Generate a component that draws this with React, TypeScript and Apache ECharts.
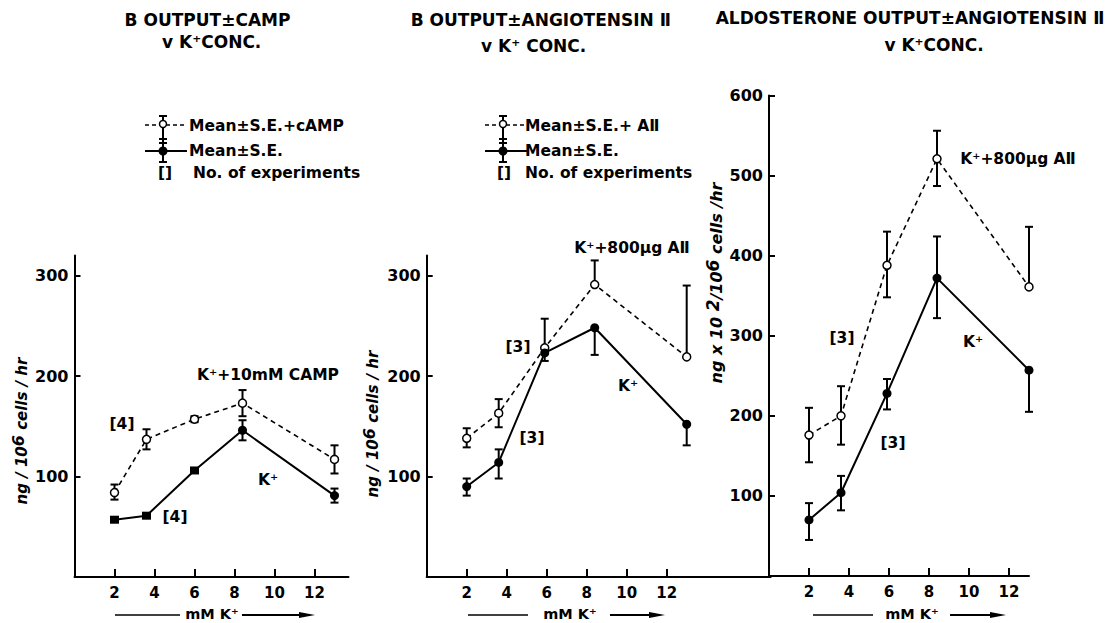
import React, { useEffect, useRef } from 'react';
import * as echarts from 'echarts';

const FONT = '"DejaVu Sans", "Liberation Sans", sans-serif';

// ---- tick labels ----
const xTickValues = [2, 4, 6, 8, 10, 12];
const yTicksB = [100, 200, 300];
const yTicksAldo = [100, 200, 300, 400, 500, 600];

// ---- Panel 1: B output ± cAMP ----
const kConcCamp = [2, 3.6, 6, 8.4, 13];
const campMean = [84, 137, 157, 173, 117];
const campUp = [8, 10, 3, 13, 14];
const campDown = [7, 10, 3, 13, 14];
const kOnlyMean1 = [57, 61, 106, 146, 81];
const kOnlyUp1 = [2, 2, 2, 10, 7];
const kOnlyDown1 = [2, 2, 2, 10, 7];

// ---- Panel 2: B output ± angiotensin II ----
const kConcAii = [2, 3.6, 5.9, 8.4, 13];
const aiiBMean = [138, 163, 228, 291, 219];
const aiiBUp = [10, 14, 29, 24, 71];
const aiiBDown = [9, 14, 0, 0, 0];
const kOnlyMean2 = [90, 114, 223, 248, 152];
const kOnlyUp2 = [8, 13, 4, 0, 0];
const kOnlyDown2 = [9, 16, 8, 27, 21];

// ---- Panel 3: aldosterone output ± angiotensin II ----
const kConcAldo = [2, 3.6, 5.9, 8.4, 13];
const aiiAldoMean = [176, 200, 388, 521, 361];
const aiiAldoUp = [34, 37, 42, 35, 75];
const aiiAldoDown = [34, 36, 40, 34, 0];
const kOnlyMean3 = [70, 104, 228, 372, 257];
const kOnlyUp3 = [21, 21, 18, 52, 0];
const kOnlyDown3 = [25, 22, 20, 50, 52];

const BOLD = { fontFamily: FONT, fontWeight: 'bold' as const, color: '#000' };

function lineSeries(idx: number, xs: number[], ys: number[], dashed: boolean, squareCount = 0) {
  return {
    type: 'line',
    xAxisIndex: idx,
    yAxisIndex: idx,
    data: xs.map((x, i) =>
      i < squareCount ? { value: [x, ys[i]], symbol: 'rect', symbolSize: [9, 8] } : { value: [x, ys[i]] }
    ),
    symbol: 'circle',
    symbolSize: dashed ? 8 : 9,
    lineStyle: { color: '#000', width: dashed ? 1.6 : 2, type: dashed ? [5, 4] : 'solid' },
    itemStyle: dashed
      ? { color: '#fff', borderColor: '#000', borderWidth: 1.5 }
      : { color: '#000', borderWidth: 0 },
    emphasis: { disabled: true },
    silent: true,
    z: 3,
  };
}

function errSeries(idx: number, xs: number[], ys: number[], up: number[], down: number[]) {
  return {
    type: 'custom',
    xAxisIndex: idx,
    yAxisIndex: idx,
    data: xs.map((x, i) => [x, ys[i] - down[i], ys[i] + up[i], ys[i]]),
    encode: { x: 0, y: [1, 2] },
    silent: true,
    z: 2,
    renderItem: (_params: any, api: any) => {
      const x = api.value(0);
      const lo = api.value(1);
      const hi = api.value(2);
      const m = api.value(3);
      const a = api.coord([x, lo]);
      const b = api.coord([x, hi]);
      const st = { stroke: '#000', lineWidth: 2 };
      const children: any[] = [
        { type: 'line', shape: { x1: a[0], y1: a[1], x2: b[0], y2: b[1] }, style: st },
      ];
      if (lo < m)
        children.push({ type: 'line', shape: { x1: a[0] - 4, y1: a[1], x2: a[0] + 4, y2: a[1] }, style: st });
      if (hi > m)
        children.push({ type: 'line', shape: { x1: b[0] - 4, y1: b[1], x2: b[0] + 4, y2: b[1] }, style: st });
      return { type: 'group', children };
    },
  };
}

function xAxis(idx: number, max: number) {
  return {
    type: 'value',
    gridIndex: idx,
    min: 0,
    max,
    axisLine: { onZero: false, lineStyle: { color: '#000', width: 2 } },
    axisTick: { inside: true, length: 8, customValues: xTickValues, lineStyle: { color: '#000', width: 2 } },
    axisLabel: { customValues: xTickValues, fontSize: 15, margin: 8, ...BOLD },
    splitLine: { show: false },
  };
}

function yAxis(idx: number, max: number, ticks: number[]) {
  return {
    type: 'value',
    gridIndex: idx,
    min: 0,
    max,
    axisLine: { show: true, onZero: false, lineStyle: { color: '#000', width: 2 } },
    axisTick: { inside: true, length: 6, customValues: ticks, lineStyle: { color: '#000', width: 2 } },
    axisLabel: { customValues: ticks, fontSize: 16, margin: 6, ...BOLD },
    splitLine: { show: false },
  };
}

function txt(x: number, y: number, text: string, size = 15.5, align = 'center') {
  return {
    type: 'text',
    x,
    y,
    silent: true,
    style: {
      text,
      fill: '#000',
      fontFamily: FONT,
      fontWeight: 'bold',
      fontSize: size,
      align,
      verticalAlign: 'middle',
    },
  };
}

function seg(x1: number, y1: number, x2: number, y2: number, w = 2, dash?: number[]) {
  return {
    type: 'line',
    silent: true,
    shape: { x1, y1, x2, y2 },
    style: { stroke: '#000', lineWidth: w, lineDash: dash },
  };
}

function legend(cx: number, textX: number, bracketX: number, expX: number, top: string) {
  const L = cx - 18;
  const R = cx + 24;
  return [
    seg(cx, 116, cx, 162),
    seg(cx - 4, 116, cx + 4, 116),
    seg(cx - 4, 139, cx + 4, 139),
    seg(cx - 4, 143, cx + 4, 143),
    seg(cx - 4, 162, cx + 4, 162),
    seg(L, 125, R, 125, 1.6, [4, 3]),
    seg(L, 151, R, 151, 2.2),
    {
      type: 'circle',
      silent: true,
      shape: { cx, cy: 124, r: 3.5 },
      style: { fill: '#fff', stroke: '#000', lineWidth: 1.5 },
    },
    { type: 'circle', silent: true, shape: { cx, cy: 151, r: 4.5 }, style: { fill: '#000' } },
    txt(textX, 126, top, 15.5, 'left'),
    txt(textX, 151, 'Mean±S.E.', 15.5, 'left'),
    txt(bracketX, 173, '[]', 15.5, 'center'),
    txt(expX, 173, 'No. of experiments', 15.5, 'left'),
  ];
}

function axisArrow(l1: number, l2: number, tc: number, r1: number, r2: number) {
  const y = 614;
  return [
    seg(l1, y + 1, l2, y + 1, 1.5),
    txt(tc, y, 'mM K⁺', 14.5),
    seg(r1, y + 1, r2 - 12, y + 1, 1.8),
    {
      type: 'polygon',
      silent: true,
      shape: { points: [[r2 - 16, y - 2], [r2, y + 1], [r2 - 16, y + 4]] },
      style: { fill: '#000' },
    },
  ];
}

function yName(x: number, y: number, parts: [string, boolean][], size: number) {
  const text = parts.map(([t, sup]) => `{${sup ? 's' : 'a'}|${t}}`).join('');
  const base = { fontFamily: FONT, fontWeight: 'bold', fontStyle: 'italic', fontSize: size, fill: '#000' };
  return {
    type: 'text',
    x,
    y,
    rotation: Math.PI / 2,
    silent: true,
    style: {
      text,
      align: 'center',
      verticalAlign: 'middle',
      ...base,
      rich: {
        a: { ...base, lineHeight: 24 },
        s: { ...base, fontSize: size + 1, lineHeight: 12, verticalAlign: 'top' },
      },
    },
  };
}

export default function App() {
  const ref = useRef<HTMLDivElement>(null);

  useEffect(() => {
    if (!ref.current) return;
    const chart = echarts.init(ref.current, null, { renderer: 'svg' });

    const graphics: any[] = [
      // titles
      txt(207.5, 20, 'B OUTPUT±CAMP', 17),
      txt(211.7, 42, 'v K⁺CONC.', 17),
      txt(540.8, 20, 'B OUTPUT±ANGIOTENSIN Ⅱ', 17),
      txt(533.7, 46, 'v K⁺ CONC.', 17),
      txt(910, 18, 'ALDOSTERONE OUTPUT±ANGIOTENSIN Ⅱ', 17),
      txt(934, 45, 'v K⁺CONC.', 17),
      // legends
      ...legend(163, 189, 165, 193, 'Mean±S.E.+cAMP'),
      ...legend(503, 525, 504, 525, 'Mean±S.E.+ AⅡ'),
      // panel annotations
      txt(122, 424, '[4]'),
      txt(175, 517, '[4]'),
      txt(268, 375, 'K⁺+10mM CAMP'),
      txt(268, 480, 'K⁺'),
      txt(518, 347, '[3]'),
      txt(532, 438, '[3]'),
      txt(628, 386, 'K⁺'),
      txt(632, 248, 'K⁺+800μg AⅡ'),
      txt(842, 338, '[3]'),
      txt(893, 443, '[3]'),
      txt(973, 342, 'K⁺'),
      txt(1018, 159, 'K⁺+800μg AⅡ'),
      // x-axis names
      ...axisArrow(115, 180, 212, 242, 315),
      ...axisArrow(468, 528, 570, 610, 665),
      ...axisArrow(813, 873, 912, 950, 1006),
      // y-axis names
      yName(22, 431, [['ng / 10', false], ['6', true], [' cells / hr', false]], 15),
      yName(373, 424, [['ng / 10', false], ['6', true], [' cells / hr', false]], 15),
      yName(716, 283, [['ng x 10 ', false], ['2', true], ['/10', false], ['6', true], [' cells /hr', false]], 16),
    ];

    chart.setOption({
      animation: false,
      backgroundColor: '#fff',
      textStyle: { fontFamily: FONT },
      grid: [
        { left: 74.5, top: 255.4, width: 274, height: 321.6, outerBoundsMode: 'none' },
        { left: 426.7, top: 255.4, width: 344, height: 321.6, outerBoundsMode: 'none' },
        { left: 769, top: 95.5, width: 260, height: 480.5, outerBoundsMode: 'none' },
      ],
      xAxis: [xAxis(0, 13.7), xAxis(1, 17.2), xAxis(2, 13)],
      yAxis: [yAxis(0, 320, yTicksB), yAxis(1, 320, yTicksB), yAxis(2, 600, yTicksAldo)],
      series: [
        errSeries(0, kConcCamp, campMean, campUp, campDown),
        errSeries(0, kConcCamp, kOnlyMean1, kOnlyUp1, kOnlyDown1),
        lineSeries(0, kConcCamp, campMean, true),
        lineSeries(0, kConcCamp, kOnlyMean1, false, 3),
        errSeries(1, kConcAii, aiiBMean, aiiBUp, aiiBDown),
        errSeries(1, kConcAii, kOnlyMean2, kOnlyUp2, kOnlyDown2),
        lineSeries(1, kConcAii, aiiBMean, true),
        lineSeries(1, kConcAii, kOnlyMean2, false),
        errSeries(2, kConcAldo, aiiAldoMean, aiiAldoUp, aiiAldoDown),
        errSeries(2, kConcAldo, kOnlyMean3, kOnlyUp3, kOnlyDown3),
        lineSeries(2, kConcAldo, aiiAldoMean, true),
        lineSeries(2, kConcAldo, kOnlyMean3, false),
      ],
      graphic: graphics,
    });

    return () => chart.dispose();
  }, []);

  return (
    <div
      ref={ref}
      style={{ position: 'fixed', left: 0, top: 0, width: 1113, height: 623, background: '#fff' }}
    />
  );
}
